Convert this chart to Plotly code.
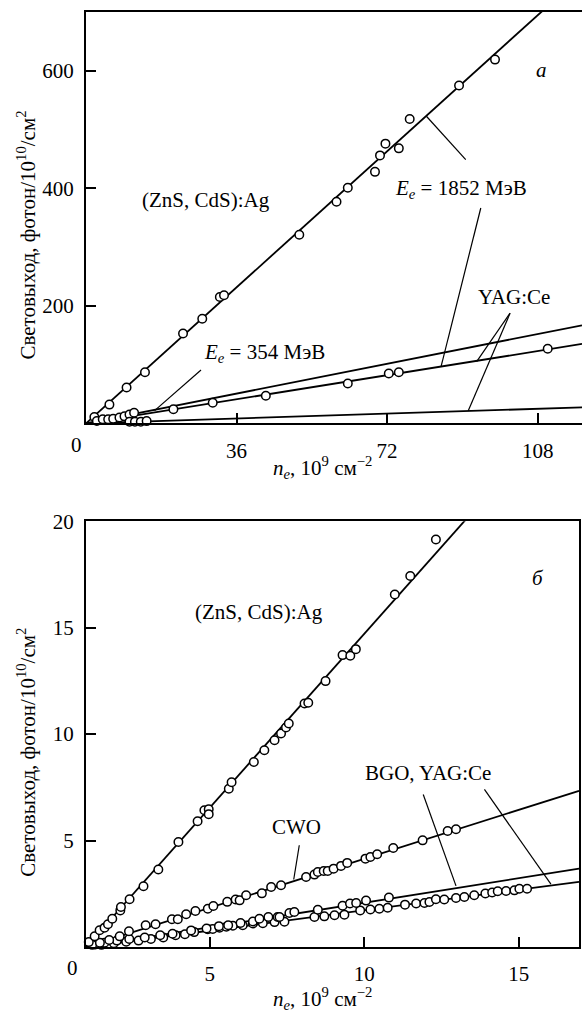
import plotly.graph_objects as go

FONT = "Liberation Serif"
FS = 21

# ---------- panel (a): light yield vs electron fluence ----------
a_znsa_1852_x = [2.0, 5.6, 9.7, 14.1, 23.2, 27.8, 32.0, 33.0, 51.0, 59.9, 62.6, 69.1,
                 70.3, 71.6, 74.8, 77.4, 89.2, 97.8]
a_znsa_1852_y = [11, 32, 61, 87, 153, 178, 215, 218, 321, 377, 401, 428,
                 456, 476, 468, 518, 575, 619]
a_zns_354_x = [2.6, 4.0, 5.3, 6.5, 8.0, 9.2, 10.4, 11.5]
a_zns_354_y = [4, 7, 7, 8, 10, 12, 15, 18]
a_yag_1852_x = [20.9, 30.3, 43.0, 62.6, 72.4, 74.8, 110.4]
a_yag_1852_y = [24, 35, 47, 68, 85, 87, 127]
a_yag_354_x = [10.4, 11.7, 13.1, 14.5]
a_yag_354_y = [2.7, 2.7, 2.7, 3.9]

# fitted slopes of the straight lines through the origin
a_slopes = {"zns1852": 6.43, "zns354": 1.408, "yag1852": 1.14, "yag354": 0.23}
a_xmax, a_ymax = 118.6, 700
a_xticks = [36, 72, 108]
a_yticks = [200, 400, 600]

# ---------- panel (б) ----------
b_zns_x = [1.09, 1.28, 1.44, 1.60, 1.71, 1.85, 2.11, 2.13, 2.41, 2.86, 3.34, 3.99,
           4.61, 4.83, 4.97, 4.97, 5.62, 5.71, 6.43, 6.77, 7.10, 7.31, 7.47, 7.56,
           8.07, 8.19, 8.75, 9.30, 9.55, 9.73, 10.99, 11.49, 12.32]
b_zns_y = [0.23, 0.50, 0.79, 0.91, 1.07, 1.33, 1.72, 1.88, 2.24, 2.85, 3.64, 4.93,
           5.91, 6.42, 6.47, 6.24, 7.43, 7.74, 8.69, 9.24, 9.71, 10.03, 10.31, 10.50,
           11.44, 11.47, 12.49, 13.71, 13.68, 13.99, 16.56, 17.43, 19.14]
b_cwo_x = [1.2, 1.45, 1.75, 2.09, 2.39, 2.93, 3.25, 3.78, 3.97, 4.24, 4.54, 4.94,
           5.12, 5.57, 5.84, 5.97, 6.18, 6.69, 6.99, 7.31, 8.12, 8.39, 8.50, 8.69,
           8.82, 9.01, 9.25, 9.45, 10.04, 10.20, 10.42, 10.94, 11.89, 12.70, 12.97]
b_cwo_y = [0.10, 0.20, 0.33, 0.50, 0.74, 1.02, 1.07, 1.30, 1.30, 1.54, 1.69, 1.80,
           1.93, 2.12, 2.23, 2.19, 2.43, 2.52, 2.82, 2.90, 3.29, 3.40, 3.52, 3.57,
           3.57, 3.68, 3.81, 3.95, 4.15, 4.23, 4.36, 4.65, 5.01, 5.45, 5.53]
b_bgo_x = [1.3, 1.6, 2.0, 2.4, 2.9, 3.4, 3.8, 4.4, 4.9, 5.3, 5.6, 6.0, 6.4, 6.61,
           6.90, 7.20, 7.26, 7.58, 7.74, 8.5, 9.30, 9.54, 9.74, 10.06, 10.80]
b_bgo_y = [0.12, 0.20, 0.30, 0.38, 0.45, 0.55, 0.62, 0.78, 0.87, 0.98, 1.02, 1.13,
           1.20, 1.33, 1.41, 1.41, 1.41, 1.60, 1.64, 1.75, 1.94, 2.04, 2.07, 2.18, 2.32]
b_yag_x = [1.5, 1.9, 2.3, 2.7, 3.1, 3.5, 3.9, 4.2, 4.5, 4.94, 5.10, 5.32, 5.54,
           5.75, 6.07, 6.40, 6.72, 7.10, 7.42, 8.39, 8.71, 9.04, 9.36, 9.87, 10.20,
           10.49, 10.76, 11.32, 11.68, 11.95, 12.11, 12.32, 12.59, 12.97, 13.24,
           13.56, 13.92, 14.14, 14.32, 14.59, 14.86, 15.02, 15.27]
b_yag_y = [0.10, 0.18, 0.25, 0.30, 0.38, 0.45, 0.55, 0.60, 0.70, 0.83, 0.85, 0.91,
           0.95, 1.00, 1.02, 1.10, 1.12, 1.17, 1.19, 1.41, 1.44, 1.49, 1.52, 1.72,
           1.76, 1.80, 1.84, 1.99, 2.04, 2.07, 2.11, 2.24, 2.23, 2.30, 2.35, 2.43,
           2.51, 2.56, 2.62, 2.63, 2.66, 2.74, 2.74]

b_slopes = {"zns": 1.634, "cwo": 0.46, "bgo": 0.231, "yag": 0.192}
b_x0, b_xmax, b_ymax = 1.0, 16.95, 20
b_xticks = [5, 10, 15]
b_yticks = [5, 10, 15, 20]

fig = go.Figure()

line_style = dict(color="black", width=1.8)
mk = dict(symbol="circle", size=8.5, color="white", line=dict(color="black", width=1.5))


def fit_line(slope, x0, x1, xa, ya):
    fig.add_trace(go.Scatter(x=[x0, x1], y=[0, slope * (x1 - x0)], mode="lines",
                             line=line_style, xaxis=xa, yaxis=ya, hoverinfo="skip"))


def points(xs, ys, xa, ya):
    fig.add_trace(go.Scatter(x=xs, y=ys, mode="markers", marker=mk,
                             xaxis=xa, yaxis=ya, cliponaxis=False))


for s in a_slopes.values():
    fit_line(s, 0, a_xmax, "x", "y")
for xs, ys in [(a_znsa_1852_x, a_znsa_1852_y), (a_zns_354_x, a_zns_354_y),
               (a_yag_1852_x, a_yag_1852_y), (a_yag_354_x, a_yag_354_y)]:
    points(xs, ys, "x", "y")

for s in b_slopes.values():
    fit_line(s, b_x0, b_xmax, "x2", "y2")
for xs, ys in [(b_yag_x, b_yag_y), (b_bgo_x, b_bgo_y), (b_cwo_x, b_cwo_y), (b_zns_x, b_zns_y)]:
    points(xs, ys, "x2", "y2")

tickfont = dict(family=FONT, size=FS, color="black")
axis_common = dict(showgrid=False, zeroline=False, showline=True, linecolor="black",
                   linewidth=1.9, ticks="inside", ticklen=10, tickwidth=1.5,
                   tickcolor="black", tickfont=tickfont)

fig.update_layout(
    width=582, height=1012,
    margin=dict(l=86, r=0, t=12, b=65),
    paper_bgcolor="white", plot_bgcolor="white",
    showlegend=False,
    font=dict(family=FONT, size=FS, color="black"),
    xaxis=dict(domain=[0, 1], range=[0, a_xmax], tickvals=a_xticks, anchor="y",
               mirror=True, ticklabelstandoff=7, **axis_common),
    yaxis=dict(domain=[0.560, 1], range=[0, a_ymax], tickvals=a_yticks, anchor="x",
               ticklabelstandoff=6, **axis_common),
    xaxis2=dict(domain=[0, 0.994], range=[b_x0, b_xmax], tickvals=b_xticks, anchor="y2",
                mirror=True, ticklabelstandoff=7, **axis_common),
    yaxis2=dict(domain=[0, 0.4554], range=[0, b_ymax], tickvals=b_yticks, anchor="x2",
                mirror=True, ticklabelstandoff=6, **axis_common),
)

tf = dict(family=FONT, size=FS, color="black")


def label(text, x, y, xa, ya, **kw):
    fig.add_annotation(text=text, x=x, y=y, xref=xa, yref=ya, showarrow=False,
                       font=tf, xanchor="center", yanchor="middle", **kw)


def pointer(x0, y0, x1, y1, xa, ya):
    fig.add_shape(type="line", x0=x0, y0=y0, x1=x1, y1=y1, xref=xa, yref=ya,
                  line=dict(color="black", width=1.2))


# panel (a) labels and leader lines
label("(ZnS, CdS):Ag", 28.7, 380, "x", "y")
label("<i>E<sub>e</sub></i> = 1852 МэВ", 89.6, 398, "x", "y")
label("<i>E<sub>e</sub></i> = 354 МэВ", 42.7, 120, "x", "y")
label("YAG:Ce", 102.4, 215, "x", "y")
label("<i>а</i>", 108.9, 601, "x", "y")
pointer(81.4, 522.6, 90.8, 448.8, "x", "y")
pointer(94.4, 366.5, 84.9, 96.5, "x", "y")
pointer(101.4, 187.5, 93.4, 105, "x", "y")
pointer(101.4, 187.5, 91.4, 21.5, "x", "y")
pointer(27.5, 90.9, 16.4, 21.8, "x", "y")

# panel (б) labels and leader lines
label("(ZnS, CdS):Ag", 6.61, 15.73, "x2", "y2")
label("<i>б</i>", 15.61, 17.31, "x2", "y2")
label("CWO", 7.82, 5.64, "x2", "y2")
label("BGO, YAG:Ce", 12.08, 8.15, "x2", "y2")
pointer(7.90, 4.78, 7.72, 3.17, "x2", "y2")
pointer(11.91, 7.16, 12.97, 2.87, "x2", "y2")
pointer(13.89, 7.40, 16.04, 2.95, "x2", "y2")

# axis titles and corner zeros
ytitle = "Световыход, фотон/10<sup>10</sup>/см<sup>2</sup>"
xtitle = "<i>n<sub>e</sub></i>, 10<sup>9</sup> см<sup>−2</sup>"
label(ytitle, -0.12, 0.7614, "paper", "paper", textangle=-90)
label(ytitle, -0.12, 0.2083, "paper", "paper", textangle=-90)
label(xtitle, 0.476, 0.5123, "paper", "paper")
label(xtitle, 0.476, -0.0555, "paper", "paper")
label("0", -0.02, 0.5373, "paper", "paper")
label("0", -0.027, -0.0227, "paper", "paper")

fig.write_html("out.html")
